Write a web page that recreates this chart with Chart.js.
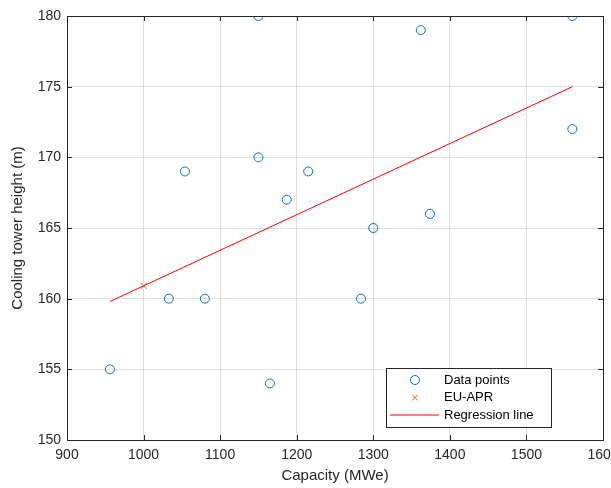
<!DOCTYPE html>
<html>
<head>
<meta charset="utf-8">
<script src="https://cdn.jsdelivr.net/npm/chart.js@4/dist/chart.umd.min.js"></script>
<style>
  html, body { margin: 0; padding: 0; background: #fff; overflow: hidden; }
  #wrap { width: 611px; height: 488px; }
</style>
</head>
<body>
<div id="wrap"><canvas id="chart" width="611" height="488"></canvas></div>
<script>
// data
const capacity = [1150, 1560, 1362, 1150, 1054, 1215, 1187, 1300, 1374, 1560, 1033, 1080, 1284, 956, 1165];
const height   = [180,  180,  179,  170,  169,  169,  167,  165,  166,  172,  160,  160,  160,  155, 154];
const euX = [1000];
const euY = [160.9];
const regX = [956, 1560];
const regY = [159.8, 175.0];
const xTicks = [900, 1000, 1100, 1200, 1300, 1400, 1500, 1600];
const yTicks = [150, 155, 160, 165, 170, 175, 180];

const FONT = "'Liberation Sans', Arial, Helvetica, sans-serif";
const AXIS = '#262626';
const BLUE = '#0072BD';
const ORANGE = '#D95319';

const toPts = (xs, ys) => xs.map((x, i) => ({ x, y: ys[i] }));

// box round the axes with inward tick marks, like MATLAB
const boxPlugin = {
  id: 'box',
  afterDraw(chart){
    const ctx = chart.ctx, a = chart.chartArea;
    const xs = chart.scales.x, ys = chart.scales.y;
    ctx.save();
    ctx.strokeStyle = AXIS;
    ctx.lineWidth = 1;
    ctx.strokeRect(Math.round(a.left)+0.5, Math.round(a.top)+0.5, Math.round(a.right-a.left), Math.round(a.bottom-a.top));
    ctx.beginPath();
    xTicks.forEach(v=>{
      const px = Math.round(xs.getPixelForValue(v))+0.5;
      ctx.moveTo(px, a.bottom); ctx.lineTo(px, a.bottom-5);
      ctx.moveTo(px, a.top); ctx.lineTo(px, a.top+5);
    });
    yTicks.forEach(v=>{
      const py = Math.round(ys.getPixelForValue(v))+0.5;
      ctx.moveTo(a.left, py); ctx.lineTo(a.left+5, py);
      ctx.moveTo(a.right, py); ctx.lineTo(a.right-5, py);
    });
    ctx.stroke();
    ctx.restore();
  }
};

// legend inside the axes, lower right
const legendPlugin = {
  id: 'innerLegend',
  afterDraw(chart){
    const ctx = chart.ctx;
    const x0 = 386, y0 = 368, w = 165, h = 59;
    ctx.save();
    ctx.fillStyle = '#fff';
    ctx.fillRect(x0, y0, w, h);
    ctx.strokeStyle = AXIS;
    ctx.lineWidth = 1;
    ctx.strokeRect(x0+0.5, y0+0.5, w, h);
    ctx.font = '13px ' + FONT;
    ctx.textBaseline = 'middle';
    const rows = [380, 397.5, 415];
    chart.data.datasets.forEach((ds, i)=>{
      const y = rows[i];
      ctx.strokeStyle = ds.borderColor;
      ctx.lineWidth = 1;
      if(ds.showLine){
        ctx.beginPath(); ctx.moveTo(390, y); ctx.lineTo(439, y); ctx.stroke();
      }else{
        ctx.fillStyle = 'rgba(0,0,0,0)';
        Chart.helpers.drawPoint(ctx, { pointStyle: ds.pointStyle, radius: ds.pointRadius, borderWidth: 1 }, 415, y);
      }
      ctx.fillStyle = '#000';
      ctx.fillText(ds.label, 444, y);
    });
    ctx.restore();
  }
};

new Chart(document.getElementById('chart'), {
  type: 'scatter',
  data: {
    datasets: [
      { label: 'Data points', data: toPts(capacity, height), pointStyle: 'circle', pointRadius: 4.5,
        borderColor: BLUE, backgroundColor: 'rgba(0,0,0,0)', borderWidth: 1, showLine: false, order: 1 },
      { label: 'EU-APR', data: toPts(euX, euY), pointStyle: 'crossRot', pointRadius: 4,
        borderColor: ORANGE, backgroundColor: ORANGE, borderWidth: 1, showLine: false, order: 0 },
      { label: 'Regression line', data: toPts(regX, regY), showLine: true, pointRadius: 0,
        borderColor: '#FF0000', borderWidth: 1, fill: false, order: 2 }
    ]
  },
  options: {
    responsive: false,
    animation: false,
    layout: { padding: { top: 16, right: 8, left: 0, bottom: 0 } },
    plugins: { legend: { display: false }, tooltip: { enabled: false } },
    scales: {
      x: {
        type: 'linear', min: 900, max: 1600,
        afterBuildTicks: s => { s.ticks = xTicks.map(v => ({ value: v })); },
        afterFit: s => { s.height = 48; s.paddingLeft = 0; s.paddingRight = 0; },
        grid: { color: 'rgba(38,38,38,0.15)', drawTicks: false },
        border: { display: false },
        ticks: { color: AXIS, font: { family: FONT, size: 14 }, padding: 7, maxRotation: 0, callback: v => String(v) },
        title: { display: true, text: 'Capacity (MWe)', color: AXIS, font: { family: FONT, size: 15 }, padding: { top: 0, bottom: 3 } }
      },
      y: {
        type: 'linear', min: 150, max: 180,
        afterBuildTicks: s => { s.ticks = yTicks.map(v => ({ value: v })); },
        afterFit: s => { s.width = 67; s.paddingTop = 0; s.paddingBottom = 0; },
        grid: { color: 'rgba(38,38,38,0.15)', drawTicks: false },
        border: { display: false },
        ticks: { color: AXIS, font: { family: FONT, size: 14 }, padding: 6, callback: v => String(v) },
        title: { display: true, text: 'Cooling tower height (m)', color: AXIS, font: { family: FONT, size: 15 }, padding: { top: 9, bottom: 0 } }
      }
    }
  },
  plugins: [boxPlugin, legendPlugin]
});
</script>
</body>
</html>
